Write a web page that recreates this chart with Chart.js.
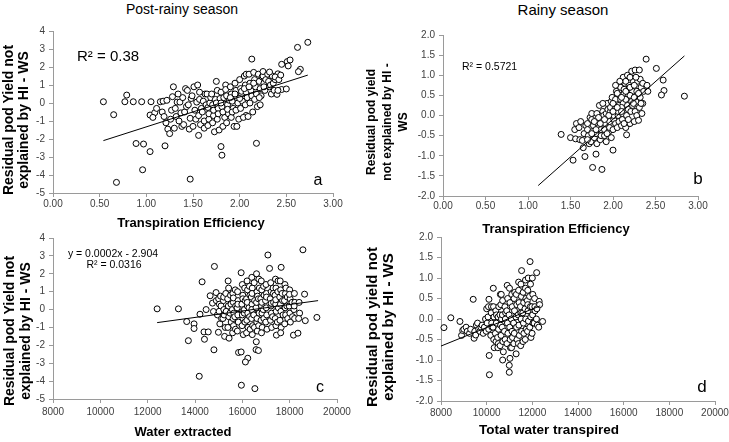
<!DOCTYPE html>
<html>
<head>
<meta charset="utf-8">
<script src="https://cdn.jsdelivr.net/npm/chart.js@4.4.1/dist/chart.umd.min.js"></script>
<style>
  html, body { margin:0; padding:0; background:#fff; }
  body { width:729px; height:442px; overflow:hidden; position:relative; font-family:'Liberation Sans', Arial, sans-serif; color:#000; }
  canvas { position:absolute; }
  .t { position:absolute; white-space:nowrap; transform:translate(-50%,-50%); text-align:center; }
  .v { position:absolute; white-space:nowrap; transform:translate(-50%,-50%) rotate(-90deg); text-align:center; font-weight:bold; }
  .l { position:absolute; white-space:nowrap; transform:translateY(-50%); }
</style>
</head>
<body>
<canvas id="ca"></canvas>
<canvas id="cb"></canvas>
<canvas id="cc"></canvas>
<canvas id="cd"></canvas>

<div class="t" style="left:182px;top:9px;font-size:14px;">Post-rainy season</div>
<div class="t" style="left:563px;top:9px;font-size:15px;">Rainy season</div>

<div class="v" style="left:16px;top:120px;font-size:14px;line-height:15px;">Residual pod Yield not<br>explained by HI - WS</div>
<div class="t" style="left:191px;top:222px;font-size:13px;font-weight:bold;">Transpiration Efficiency</div>

<div class="v" style="left:387px;top:122px;font-size:12px;line-height:16px;">Residual pod yield<br>not explained by HI -<br>WS</div>
<div class="t" style="left:556px;top:228px;font-size:13px;font-weight:bold;">Transpiration Efficiency</div>

<div class="v" style="left:17px;top:331px;font-size:14px;line-height:16px;">Residual pod Yield not<br>explained by HI - WS</div>
<div class="t" style="left:183px;top:431px;font-size:13px;font-weight:bold;">Water extracted</div>

<div class="v" style="left:380px;top:327px;font-size:15px;line-height:16px;">Residual pod yield not<br>explained by HI - WS</div>
<div class="t" style="left:549px;top:429px;font-size:13.5px;font-weight:bold;">Total water transpired</div>

<div class="l" style="left:77px;top:55px;font-size:15px;">R² = 0.38</div>
<div class="l" style="left:462px;top:66px;font-size:10.5px;">R² = 0.5721</div>
<div class="t" style="left:113px;top:253px;font-size:10.5px;">y = 0.0002x - 2.904</div>
<div class="t" style="left:114px;top:264px;font-size:10.5px;">R² = 0.0316</div>

<div class="t" style="left:318px;top:180px;font-size:16px;">a</div>
<div class="t" style="left:698px;top:179px;font-size:17px;">b</div>
<div class="t" style="left:320px;top:387px;font-size:16px;">c</div>
<div class="t" style="left:702px;top:387px;font-size:17px;">d</div>

<script>
// ---------- DATA ----------
// Panel a: Post-rainy season, Transpiration Efficiency vs residual pod yield
const aTE = [
  0.54,0.65,0.79,0.77,0.86,0.95,0.89,0.97,0.96,0.68,1.05,1.04,
  1.09,1.07,1.11,1.15,1.04,1.20,1.47,1.80,1.81,2.13,2.18,2.07,
  1.17,1.18,1.19,1.21,1.22,1.23,1.25,1.26,1.27,1.28,
  1.29,1.30,1.31,1.32,1.33,1.34,1.35,1.36,1.37,1.38,
  1.39,1.40,1.41,1.42,1.43,1.44,1.45,1.46,1.47,1.48,
  1.49,1.50,1.51,1.52,1.53,1.54,1.55,1.56,1.57,1.56,1.58,1.59,1.57,
  1.60,1.61,1.62,1.63,1.64,1.62,1.65,1.66,1.67,1.66,1.68,1.69,1.67,
  1.70,1.71,1.72,1.71,1.73,1.74,1.72,1.75,1.76,1.77,1.76,1.78,1.79,1.77,1.75,
  1.80,1.81,1.82,1.83,1.84,1.80,1.82,1.85,1.86,1.87,1.88,1.86,1.89,1.87,1.85,
  1.90,1.91,1.92,1.93,1.91,1.94,1.90,1.92,1.95,1.96,1.97,1.98,1.96,1.99,1.95,1.97,
  2.00,2.01,2.02,2.03,2.01,2.04,2.00,2.02,2.05,2.06,2.07,2.08,2.06,2.09,2.05,2.07,
  2.10,2.11,2.12,2.13,2.11,2.14,2.10,2.15,2.16,2.17,2.18,2.16,2.19,2.15,
  2.20,2.21,2.22,2.23,2.21,2.24,2.22,2.25,2.26,2.27,2.28,2.26,2.25,
  2.30,2.31,2.32,2.33,2.34,2.35,2.36,2.37,2.38,2.32,2.41,2.38,
  2.40,2.42,2.44,2.45,2.45,2.50,2.51,2.54,2.52,2.41,
  2.62,2.73,2.65,2.63
];
const aResid = [
  0.07,-0.65,0.44,0.07,0.07,0.07,-2.25,-2.28,-3.71,-4.41,0.07,-0.67,
  -0.54,-0.8,-0.3,0.07,-2.7,-2.38,-4.23,-2.42,-2.9,2.44,-2.24,-0.69,
  -0.5,0.1,-0.75,-1.1,0.15,-1.45,-1.7,-0.9,-0.4,0.35,
  0.9,-1.4,-0.3,-0.75,0.05,0.5,-1.0,0.05,-0.55,-1.3,
  0.3,-1.2,-0.5,0.8,-0.2,0.7,-0.1,-1.45,-0.85,0.25,
  0.4,-1.3,0.9,-0.4,-0.9,0.05,1.0,-0.7,0.2,-1.8,-1.2,-0.3,0.6,
  -0.5,0.1,-1.0,0.5,-0.1,-1.4,0.5,-0.25,-0.9,-1.25,0.0,0.3,-0.6,
  0.5,-0.1,-0.7,-1.1,-1.6,0.2,-0.4,1.2,0.7,-0.3,-0.9,-1.5,0.25,-0.6,0.0,
  0.6,-0.2,-1.3,0.3,-0.8,0.0,-0.5,1.0,0.4,-0.1,-0.6,-1.1,0.15,-0.35,0.75,
  0.9,0.5,0.1,-0.3,-0.8,-1.3,0.3,-0.5,1.1,0.7,0.3,0.0,-0.4,-0.9,0.5,-1.3,
  1.3,0.8,0.5,0.1,-0.3,-0.8,0.25,0.65,1.5,1.0,0.6,0.3,-0.1,-0.75,0.8,1.6,
  1.6,1.1,0.7,0.4,0.0,-0.5,0.9,1.7,1.3,0.9,0.5,0.2,-0.2,1.1,
  1.6,1.2,0.8,0.4,0.3,1.45,-0.1,1.5,1.1,0.7,1.3,0.9,1.75,
  1.6,1.2,0.9,1.0,0.5,1.5,1.1,0.7,1.3,1.72,1.62,1.45,
  0.48,1.3,1.55,2.15,0.75,0.78,2.3,2.39,2.06,0.7,
  3.09,3.37,1.87,1.74
];
const aTrendX = [0.54, 2.73];
const aTrendY = [-2.09, 1.55];

// Panel b: Rainy season, Transpiration Efficiency vs residual pod yield
const bTE = [
  1.39,1.53,1.50,1.55,1.56,1.57,1.60,1.61,1.62,
  1.65,1.67,1.66,1.64,1.68,1.70,1.71,1.72,1.70,1.73,
  1.76,1.75,1.76,1.74,1.77,1.75,1.78,
  1.80,1.81,1.80,1.82,1.81,1.83,1.84,
  1.87,1.85,1.86,1.87,1.88,1.86,1.89,
  1.90,1.91,1.92,1.93,1.90,1.92,1.94,
  1.95,1.96,1.97,1.98,1.96,1.99,1.97,
  2.00,2.00,2.01,2.02,2.03,2.04,2.01,2.03,
  2.05,2.06,2.07,2.08,2.09,2.06,2.07,2.09,
  2.10,2.11,2.12,2.13,2.14,2.12,2.10,2.11,2.13,
  2.16,2.15,2.16,2.17,2.18,2.19,2.17,2.15,2.18,
  2.20,2.21,2.22,2.23,2.24,2.22,2.20,2.23,
  2.25,2.26,2.27,2.28,2.29,2.26,2.25,2.28,
  2.30,2.31,2.32,2.33,2.31,2.32,2.34,
  2.35,2.36,2.35,2.39,2.41,2.40,2.51,2.59,2.60,2.57,2.84,
  1.95,2.00,2.05,2.10,2.15,2.20,2.25,2.00,2.05,2.10,2.15,2.20,1.90,1.85,1.80,
  1.75,1.70,2.30,2.08,2.13,1.83,1.88,1.93,1.98,2.03,2.24,2.27,2.18,2.33,1.78
];
const bResid = [
  -0.47,-1.11,-0.55,-0.35,-0.58,-0.2,-0.3,-0.6,-0.15,
  -0.8,-1.02,-0.45,-0.62,-0.25,-0.2,-0.5,-0.7,-0.35,-0.05,
  -1.29,-0.1,-0.4,-0.65,-0.25,0.05,-0.55,
  -0.96,-0.7,-0.45,-0.2,0.05,-0.3,0.25,
  -1.34,-0.6,-0.35,-0.1,0.1,-0.5,0.0,
  -0.5,-0.2,0.05,0.3,-0.35,-0.65,0.15,
  -0.4,-0.15,0.1,0.35,-0.3,0.45,0.2,
  -0.86,-0.35,-0.1,0.15,0.4,0.6,0.0,-0.2,
  -0.3,0.0,0.25,0.5,0.7,0.1,-0.15,0.4,
  -0.25,0.05,0.3,0.55,0.8,0.95,0.2,-0.1,0.65,
  -0.48,-0.3,0.0,0.25,0.5,0.75,1.0,0.4,0.15,
  -0.2,0.1,0.35,0.6,0.85,1.1,0.5,0.25,
  -0.15,0.1,0.35,0.6,0.85,1.13,0.45,0.0,
  -0.12,0.2,0.45,0.7,1.13,0.9,0.05,
  0.3,0.6,0.8,1.4,0.6,0.75,1.17,0.88,0.62,0.51,0.48,
  0.0,0.3,0.55,0.45,0.6,0.7,0.75,0.1,0.2,0.1,0.85,0.95,-0.1,-0.2,-0.35,
  -0.45,-0.6,0.55,0.85,-0.2,-0.05,0.3,-0.45,-0.55,0.75,0.3,0.95,-0.1,0.3,-0.15
];
const bTrendX = [1.12, 2.84];
const bTrendY = [-1.74, 1.48];

// Panel c: Post-rainy season, Water extracted vs residual pod yield
const cWater = [
  12400,13300,13650,13720,13960,13960,14300,14210,14380,14400,14560,14180,
  14470,14640,14740,14780,14800,14820,14900,14950,14890,
  15000,15020,15050,14990,15030,15100,15120,15080,
  15200,15220,15180,15250,15210,15230,15300,15320,15280,
  15400,15420,15380,15410,15430,15390,15440,15500,15520,15480,15530,
  15600,15620,15580,15610,15630,15590,15640,15620,15700,15720,15680,15710,
  15800,15820,15780,15810,15830,15790,15840,15810,15950,15950,15960,
  16000,16020,15980,16010,16030,15990,16040,16020,16000,16100,16120,16080,16110,16090,
  16200,16220,16180,16210,16230,16190,16240,16230,16130,16210,16180,
  16300,16320,16280,16310,16330,
  16400,16420,16380,16410,16430,16390,16440,16420,16410,16400,
  16500,16520,16480,16510,16530,
  16600,16620,16580,16610,16630,16590,16580,16640,16620,16600,
  16700,16720,16680,16710,16680,16690,
  16800,16820,16780,16810,16830,16790,16840,16820,16810,
  16900,16920,16880,16910,
  17000,17020,16980,17010,17030,16990,17040,17020,17080,17150,
  17200,17220,17180,17210,17230,17190,17240,17220,17300,17320,17280,17310,
  17400,17420,17380,17410,17430,17390,17440,17420,17410,17500,17520,17480,17510,
  17600,17620,17580,17610,17630,17590,17640,17620,17640,17700,17720,17680,
  17800,17820,17780,17810,17830,17790,17840,17900,17920,17880,
  18000,18020,17980,18010,18030,17990,18100,18120,
  18200,18220,18180,18210,18160,18190,18400,18420,18350,18380,
  18560,18630,18660,19150
];
const cResid = [
  0.04,0.04,-0.67,-1.74,-0.8,-1.06,1.55,-0.26,-1.25,-1.66,-1.25,-3.73,
  0.0,0.77,0.36,-0.11,-2.25,2.41,0.5,-0.3,0.95,
  0.6,-0.1,-0.8,-1.27,0.3,0.2,-0.5,0.75,
  0.5,0.0,-0.5,-1.5,0.7,-0.3,0.9,-0.1,-1.0,
  1.6,1.2,0.6,0.2,-0.4,-1.0,-1.6,0.8,0.3,-0.2,-0.7,
  0.9,0.4,0.0,-0.5,-0.9,-1.3,-0.2,0.65,1.1,0.2,-0.4,-1.1,
  1.0,0.5,0.1,-0.3,-0.7,-1.2,-2.4,0.3,2.06,-2.37,-4.23,
  1.4,0.8,0.3,-0.1,-0.5,-0.9,-1.4,0.6,-0.3,1.2,0.5,-0.2,-0.7,0.0,
  1.6,1.1,0.6,0.2,-0.2,-0.6,-1.0,-2.72,-2.93,0.4,-1.3,
  1.3,0.8,0.1,-0.4,-1.1,
  1.8,1.2,0.7,0.3,-0.1,-0.5,-0.9,-1.4,0.9,0.0,
  1.5,0.5,-0.3,-1.0,-4.42,
  2.0,1.0,0.1,-0.7,-1.2,-1.8,-2.24,0.75,-0.5,0.4,
  1.7,1.2,0.6,-0.2,-2.29,-0.9,
  1.6,1.1,0.6,0.2,-0.2,-0.6,-1.0,0.4,-1.3,
  1.3,0.8,0.0,-0.5,
  1.4,0.9,0.5,0.1,-0.3,-0.7,-1.1,0.7,3.05,2.3,
  1.5,1.0,0.6,0.2,-0.2,-0.6,-1.0,0.35,1.2,0.4,-0.4,0.9,
  1.7,1.2,0.8,0.3,-0.1,-0.5,-1.43,-0.9,0.55,1.0,0.1,-0.7,1.6,
  1.6,1.1,0.7,0.3,-0.1,-0.6,-1.0,-1.3,2.36,0.5,-0.3,0.9,
  1.4,0.9,0.5,0.1,-0.3,-0.8,1.2,0.7,-0.5,0.2,
  1.1,0.6,0.2,-0.2,-0.7,0.85,0.4,-0.4,
  0.9,0.4,0.0,-0.5,-1.43,0.2,0.4,-0.2,-1.32,-0.5,
  3.34,0.86,-0.62,-0.44
];
const cTrendX = [12400, 19200];
const cTrendY = [-0.73, 0.5];

// Panel d: Rainy season, Total water transpired vs residual pod yield
const dWater = [
  8130,8430,8830,8900,8950,9000,9100,9150,9250,9300,
  9410,9450,9480,9520,9550,9600,9650,9700,9750,9800,9850,9900,9950,
  10000,10020,9980,10100,10110,10120,10080,10060,10090,
  10200,10220,10180,10210,10230,10290,10300,10320,10280,10310,10330,
  10400,10420,10380,10410,10430,10500,10520,10480,10510,10530,10490,
  10600,10620,10580,10610,10630,10590,10640,10650,
  10700,10720,10680,10710,10730,10700,10690,10800,10820,10780,10810,10830,
  10900,10920,10880,10910,10930,10890,
  11000,11020,10980,11010,11030,11020,10990,10990,11040,
  11100,11120,11080,11110,11130,11090,11200,11220,11180,11210,11230,11190,
  11300,11320,11280,11310,11330,11290,11400,11420,11380,11410,11430,11390,11400,
  11530,11500,11520,11480,11510,11530,11490,11500,11600,11620,11580,11610,11630,11590,
  11700,11720,11680,11710,11730,11690,11700,11820,11800,11780,11810,11830,11790,11800,
  11900,11920,11880,11910,11930,11890,11940,12000,12020,11980,12010,12030,11990,
  12100,12120,12080,12110,12190,12200,12220,12180,12300,12320,12280,12450
];
const dResid = [
  -0.21,0.03,-0.06,-0.4,-0.28,-0.25,-0.2,-0.3,-0.35,-0.25,
  0.48,-0.47,-0.3,-0.39,-0.15,-0.1,-0.25,-0.3,-0.2,-0.15,-0.35,-0.2,0.0,
  0.25,-0.1,-0.3,0.48,-0.89,-1.36,0.3,0.05,-0.25,
  0.15,-0.1,-0.4,0.3,-0.2,0.75,0.3,0.05,-0.2,-0.5,-0.7,
  0.2,-0.1,-0.35,-0.55,0.1,0.05,-0.25,-0.45,-0.6,0.3,-0.7,
  0.6,0.35,0.1,-0.15,-0.4,-0.65,0.6,0.0,
  0.45,0.1,-0.2,-0.55,-0.8,-1.0,0.1,0.3,0.0,-0.3,-0.5,0.15,
  0.82,0.5,0.2,-0.1,-0.35,-0.6,
  0.75,0.4,0.1,-0.2,-0.5,-0.96,-1.13,-1.3,-0.7,
  0.6,0.3,0.0,-0.3,-0.45,-0.7,0.5,0.2,-0.1,-0.35,0.65,-0.6,
  0.6,0.35,0.05,-0.2,-0.5,-0.85,0.7,0.4,0.1,-0.15,-0.4,-0.6,0.9,
  1.18,0.85,0.55,0.3,0.0,-0.3,-0.65,0.15,0.65,0.4,0.15,-0.1,-0.35,-0.55,
  0.75,0.5,0.25,0.0,-0.25,-0.5,0.95,1.0,0.7,0.45,0.2,-0.05,-0.3,0.35,
  1.4,0.85,0.55,0.3,0.05,-0.2,-0.45,1.0,0.6,0.3,0.1,-0.1,-0.35,
  0.5,0.2,-0.1,0.3,1.13,0.25,-0.15,0.0,0.43,0.35,-0.2,-0.06
];
const dTrendX = [8000, 12340];
const dTrendY = [-0.66, 0.32];

// Tick labels
const teTicks = [0, 0.5, 1, 1.5, 2, 2.5, 3];
const waterTicks = [8000, 10000, 12000, 14000, 16000, 18000, 20000];
const residTicksPost = [-5, -4, -3, -2, -1, 0, 1, 2, 3, 4];
const residTicksRainy = [-2, -1.5, -1, -0.5, 0, 0.5, 1, 1.5, 2];

// ---------- DRAWING ----------
const FONT = "'Liberation Sans', Arial, sans-serif";
Chart.defaults.font.family = FONT;

function pts(xs, ys) {
  if (xs.length !== ys.length) throw new Error('length mismatch ' + xs.length + ' vs ' + ys.length);
  return xs.map((x, i) => ({ x: x, y: ys[i] }));
}

function panel(id, rect, o) {
  const cv = document.getElementById(id);
  const L = 35, T = 10, R = 25, B = 25;
  cv.style.left = (rect.l - L) + 'px';
  cv.style.top = (rect.t - T) + 'px';
  cv.width = rect.r - rect.l + L + R;
  cv.height = rect.b - rect.t + T + B;
  const tickFont = { size: 10, family: FONT };
  new Chart(cv, {
    type: 'scatter',
    data: {
      datasets: [
        { data: pts(o.tx, o.ty), showLine: true, borderColor: '#000', borderWidth: 1,
          pointRadius: 0, clip: false, fill: false },
        { data: pts(o.xs, o.ys), pointRadius: 3, pointBorderWidth: 1,
          borderColor: '#000', backgroundColor: '#fff', clip: false }
      ]
    },
    options: {
      responsive: false, animation: false, devicePixelRatio: 1, events: [],
      layout: { padding: { left: 0, top: T, right: R, bottom: 0 } },
      plugins: { legend: { display: false }, tooltip: { enabled: false } },
      scales: {
        x: {
          type: 'linear', min: o.xTicks[0], max: o.xTicks[o.xTicks.length - 1],
          afterBuildTicks: s => { s.ticks = o.xTicks.map(v => ({ value: v })); },
          ticks: { callback: o.xFmt, font: tickFont, color: '#404040', padding: o.xPad,
                   maxRotation: 0, autoSkip: false },
          grid: { drawOnChartArea: false, drawTicks: true, tickLength: 4, color: '#9a9a9a' },
          border: { display: true, color: '#9a9a9a', width: 1 },
          afterFit: s => { s.height = B; }
        },
        y: {
          type: 'linear', min: o.yTicks[0], max: o.yTicks[o.yTicks.length - 1],
          afterBuildTicks: s => { s.ticks = o.yTicks.map(v => ({ value: v })); },
          ticks: { callback: o.yFmt, font: tickFont, color: '#404040', padding: 4, autoSkip: false },
          grid: { drawOnChartArea: false, drawTicks: true, tickLength: 4, color: '#9a9a9a' },
          border: { display: true, color: '#9a9a9a', width: 1 },
          afterFit: s => { s.width = L; }
        }
      }
    }
  });
}

const f2 = v => Number(v).toFixed(2);
const f1 = v => Number(v).toFixed(1);
const f0 = v => String(Math.round(v));

panel('ca', { l: 53, r: 333, t: 31, b: 193 },
  { xs: aTE, ys: aResid, tx: aTrendX, ty: aTrendY, xTicks: teTicks, yTicks: residTicksPost,
    xFmt: f2, yFmt: f0, xPad: 1 });
panel('cb', { l: 443, r: 698, t: 35, b: 196 },
  { xs: bTE, ys: bResid, tx: bTrendX, ty: bTrendY, xTicks: teTicks, yTicks: residTicksRainy,
    xFmt: f2, yFmt: f1, xPad: 0 });
panel('cc', { l: 53, r: 337, t: 238, b: 399 },
  { xs: cWater, ys: cResid, tx: cTrendX, ty: cTrendY, xTicks: waterTicks, yTicks: residTicksPost,
    xFmt: f0, yFmt: f0, xPad: 3 });
panel('cd', { l: 441, r: 715, t: 237, b: 401 },
  { xs: dWater, ys: dResid, tx: dTrendX, ty: dTrendY, xTicks: waterTicks, yTicks: residTicksRainy,
    xFmt: f0, yFmt: f1, xPad: 2 });
</script>
</body>
</html>
